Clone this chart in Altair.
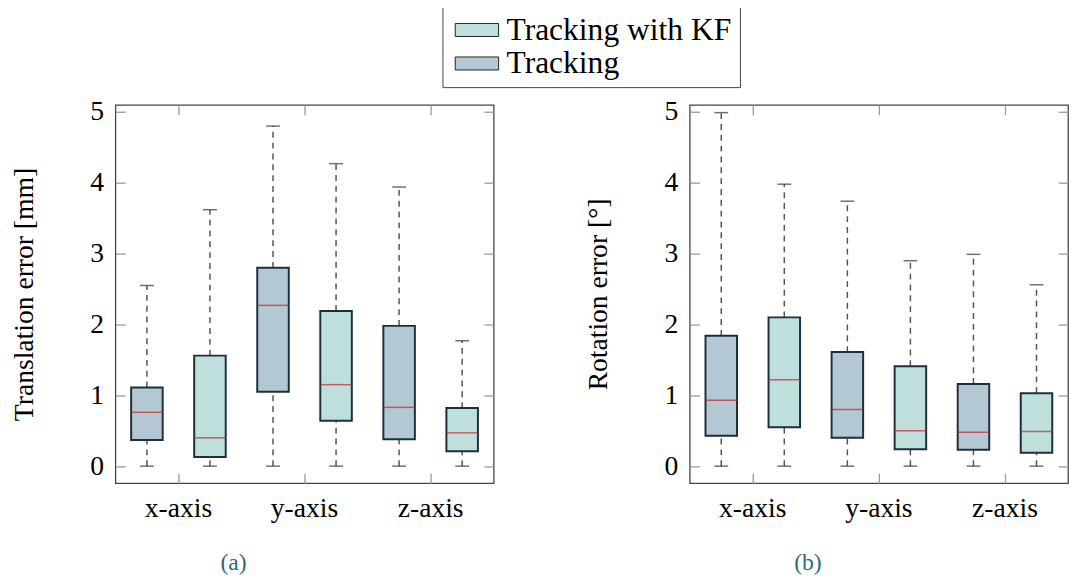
import altair as alt
import pandas as pd

categories = ["x-axis", "y-axis", "z-axis"]
series = ["Tracking", "Tracking with KF"]
legend_order = ["Tracking with KF", "Tracking"]
fill_colors = ["#bfdfdc", "#b4c8d4"]

# order: x Tracking, x KF, y Tracking, y KF, z Tracking, z KF
trans_min = [0, 0, 0, 0, 0, 0]
trans_q1 = [0.37, 0.13, 1.05, 0.64, 0.38, 0.21]
trans_med = [0.76, 0.40, 2.27, 1.15, 0.83, 0.47]
trans_q3 = [1.11, 1.56, 2.80, 2.19, 1.98, 0.82]
trans_max = [2.55, 3.62, 4.80, 4.27, 3.94, 1.77]

rot_min = [0, 0, 0, 0, 0, 0]
rot_q1 = [0.43, 0.55, 0.40, 0.24, 0.23, 0.19]
rot_med = [0.93, 1.22, 0.80, 0.50, 0.48, 0.49]
rot_q3 = [1.84, 2.10, 1.61, 1.41, 1.16, 1.03]
rot_max = [4.99, 3.98, 3.74, 2.90, 2.99, 2.56]

y_ticks = [0, 1, 2, 3, 4, 5]
y_domain = [-0.24, 5.1]

FONT = "'Liberation Serif', 'DejaVu Serif', serif"
FS = 28


def make_df(mins, q1, med, q3, maxs):
    rows = []
    i = 0
    for c in categories:
        for s in series:
            rows.append(dict(cat=c, series=s, lo=mins[i], q1=q1[i], med=med[i], q3=q3[i], hi=maxs[i]))
            i += 1
    return pd.DataFrame(rows)


def panel(df, ytitle, caption, show_legend):
    base = alt.Chart(df)
    xenc = alt.X("cat:N", sort=categories, title=None,
                 scale=alt.Scale(paddingInner=0, paddingOuter=0),
                 axis=alt.Axis(labelAngle=0, offset=-10, tickSize=10, labelPadding=12,
                               labelFont=FONT, labelFontSize=FS, labelColor="black"))
    xoff = alt.XOffset("series:N", sort=series,
                       scale=alt.Scale(paddingInner=0.5, paddingOuter=0.25))
    yscale = alt.Scale(domain=y_domain, nice=False, zero=False)
    yaxis = alt.Axis(values=y_ticks, format="d", offset=-10, tickSize=10,
                     labelPadding=12, titlePadding=52,
                     labelFont=FONT, labelFontSize=FS, labelColor="black",
                     titleFont=FONT, titleFontSize=FS, titleFontWeight="normal",
                     titleColor="black")

    whisk_lo = base.mark_rule(color="#555", strokeWidth=1.5, strokeDash=[6, 5]).encode(
        x=xenc, xOffset=xoff,
        y=alt.Y("lo:Q", scale=yscale, axis=yaxis, title=ytitle), y2="q1:Q")
    whisk_hi = base.mark_rule(color="#555", strokeWidth=1.5, strokeDash=[6, 5]).encode(
        x=xenc, xOffset=xoff, y=alt.Y("q3:Q"), y2="hi:Q")
    box = base.mark_bar(stroke="#1c2f3c", strokeWidth=2, opacity=1).encode(
        x=xenc, xOffset=xoff, y="q1:Q", y2="q3:Q",
        color=alt.Color("series:N", sort=legend_order,
                        scale=alt.Scale(domain=legend_order, range=fill_colors),
                        legend=alt.Legend(
                            title=None, orient="none", legendX=332, legendY=-100,
                            symbolType="M-2,-0.6H2V0.6H-2Z", symbolSize=484,
                            symbolOffset=11,
                            symbolStrokeColor="#222", symbolStrokeWidth=1,
                            symbolOpacity=1,
                            labelFont=FONT, labelFontSize=32, labelColor="black",
                            labelOffset=14, labelLimit=400, rowPadding=2,
                            strokeColor="#444", fillColor="white", padding=8,
                        ) if show_legend else None))
    med = base.mark_tick(color="#cc2229", thickness=1.5, size=32).encode(
        x=xenc, xOffset=xoff, y="med:Q")
    cap_lo = base.mark_tick(color="#333", thickness=1.5, size=14).encode(
        x=xenc, xOffset=xoff, y="lo:Q")
    cap_hi = base.mark_tick(color="#333", thickness=1.5, size=14).encode(
        x=xenc, xOffset=xoff, y="hi:Q")
    helper = base.mark_point(opacity=0).encode(
        x=alt.X("cat:N", sort=categories, title=None,
                scale=alt.Scale(paddingInner=0, paddingOuter=0),
                axis=alt.Axis(orient="top", labels=False, offset=-10, tickSize=10)),
        y=alt.Y("med:Q", scale=yscale, title=None,
                axis=alt.Axis(orient="right", values=y_ticks, labels=False,
                              offset=-10, tickSize=10)))

    main = alt.layer(whisk_lo, whisk_hi, box, med, cap_lo, cap_hi)
    return alt.layer(main, helper).resolve_scale(x="independent", y="independent").properties(
        width=384, height=384,
        title=alt.TitleParams(caption, orient="bottom", anchor="middle", frame="group",
                              dx=-72, offset=29, fontSize=24, color="#2d6b7b",
                              font=FONT, fontWeight="normal"))


left = panel(make_df(trans_min, trans_q1, trans_med, trans_q3, trans_max),
             "Translation error [mm]", "(a)", True)
right = panel(make_df(rot_min, rot_q1, rot_med, rot_q3, rot_max),
              "Rotation error [°]", "(b)", False)

chart = alt.hconcat(left, right, spacing=90).resolve_scale(color="shared").properties(
    padding={"left": 2, "top": -7, "right": 0, "bottom": 0}
).configure(font=FONT).configure_view(stroke="#444", strokeWidth=1.3).configure_axis(
    domain=False, grid=False, tickColor="#999", tickWidth=1.3,
    labelFont=FONT, labelFontSize=FS, labelColor="black",
    titleFont=FONT, titleFontSize=FS, titleFontWeight="normal", titleColor="black",
)

chart.save("out.html", embed_options={"renderer": "svg", "actions": False})
